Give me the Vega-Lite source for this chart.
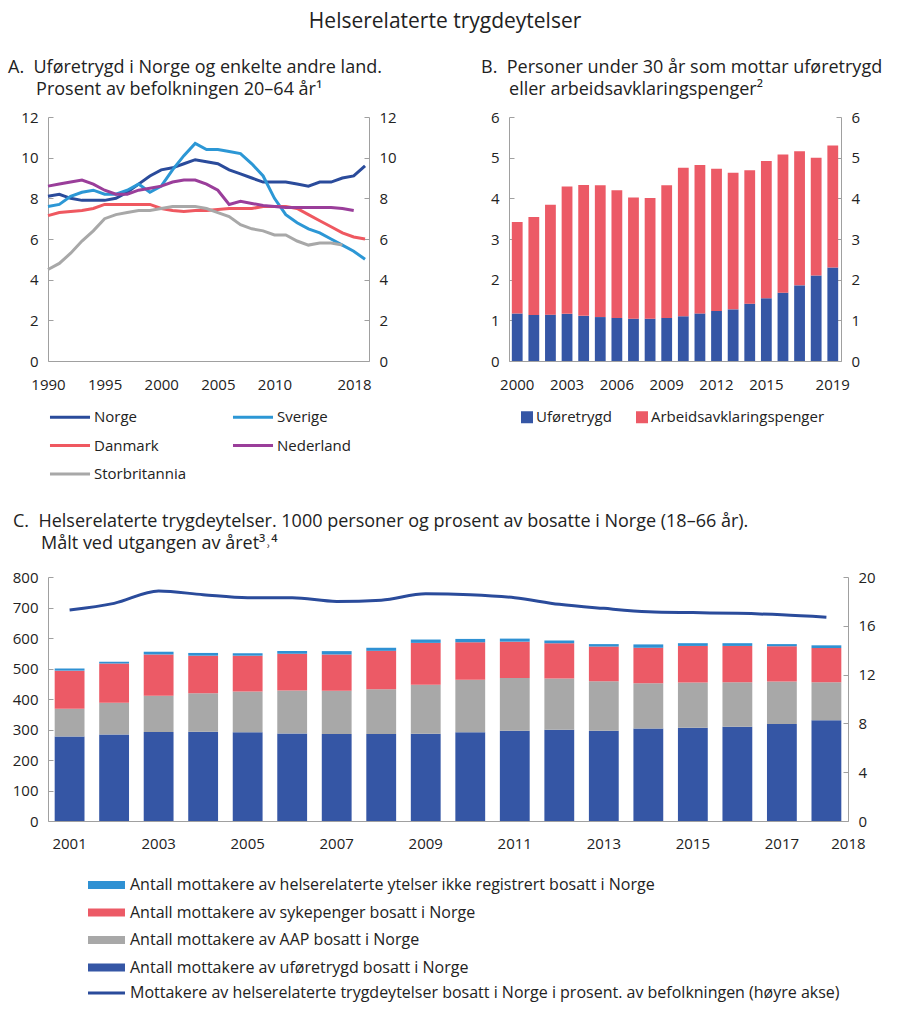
{
  "$schema": "https://vega.github.io/schema/vega-lite/v6.json",
  "padding": {"left": 8, "top": 11, "right": 5, "bottom": 5},
  "background": "white",
  "title": {"text": "Helserelaterte trygdeytelser", "fontSize": 21, "anchor": "middle", "offset": 27},
  "config": {
    "font": "Open Sans",
    "view": {"stroke": null},
    "axis": {"labelFont": "Open Sans", "labelFontSize": 15, "labelColor": "#222", "domainColor": "#a0a0a0", "tickColor": "#a0a0a0", "grid": false, "title": null},
    "legend": {"labelFont": "Open Sans", "labelFontSize": 15, "labelColor": "#222", "labelLimit": 900},
    "title": {"font": "Open Sans", "fontWeight": "normal", "color": "#222", "fontSize": 18, "lineHeight": 22}
  },
  "spacing": 30,
  "resolve": {"scale": {"color": "independent", "stroke": "independent"}, "legend": {"color": "independent", "stroke": "independent"}},
  "vconcat": [
    {
      "spacing": 84,
      "resolve": {"scale": {"color": "independent"}, "legend": {"color": "independent"}},
      "hconcat": [
        {
          "width": 321,
          "height": 244,
          "title": {"text": ["A.\u00a0\u00a0Uføretrygd i Norge og enkelte andre land.", "\u200b\u00a0\u00a0\u00a0\u00a0\u00a0\u00a0Prosent av befolkningen 20–64 år¹"], "anchor": "start", "frame": "group", "dx": -40, "offset": 11},
          "data": {"values": [
            {"year": 1990, "Norge": 8.1, "Sverige": 7.6, "Danmark": 7.15, "Nederland": 8.6, "Storbritannia": 4.5},
            {"year": 1991, "Norge": 8.2, "Sverige": 7.7, "Danmark": 7.3, "Nederland": 8.7, "Storbritannia": 4.8},
            {"year": 1992, "Norge": 8.0, "Sverige": 8.1, "Danmark": 7.35, "Nederland": 8.8, "Storbritannia": 5.3},
            {"year": 1993, "Norge": 7.9, "Sverige": 8.3, "Danmark": 7.4, "Nederland": 8.9, "Storbritannia": 5.9},
            {"year": 1994, "Norge": 7.9, "Sverige": 8.4, "Danmark": 7.5, "Nederland": 8.7, "Storbritannia": 6.4},
            {"year": 1995, "Norge": 7.9, "Sverige": 8.2, "Danmark": 7.7, "Nederland": 8.4, "Storbritannia": 7.0},
            {"year": 1996, "Norge": 8.0, "Sverige": 8.2, "Danmark": 7.7, "Nederland": 8.2, "Storbritannia": 7.2},
            {"year": 1997, "Norge": 8.3, "Sverige": 8.4, "Danmark": 7.7, "Nederland": 8.2, "Storbritannia": 7.3},
            {"year": 1998, "Norge": 8.7, "Sverige": 8.7, "Danmark": 7.7, "Nederland": 8.4, "Storbritannia": 7.4},
            {"year": 1999, "Norge": 9.1, "Sverige": 8.3, "Danmark": 7.7, "Nederland": 8.5, "Storbritannia": 7.4},
            {"year": 2000, "Norge": 9.4, "Sverige": 8.6, "Danmark": 7.5, "Nederland": 8.6, "Storbritannia": 7.5},
            {"year": 2001, "Norge": 9.5, "Sverige": 9.4, "Danmark": 7.4, "Nederland": 8.8, "Storbritannia": 7.6},
            {"year": 2002, "Norge": 9.7, "Sverige": 10.1, "Danmark": 7.35, "Nederland": 8.9, "Storbritannia": 7.6},
            {"year": 2003, "Norge": 9.9, "Sverige": 10.7, "Danmark": 7.4, "Nederland": 8.9, "Storbritannia": 7.6},
            {"year": 2004, "Norge": 9.8, "Sverige": 10.4, "Danmark": 7.4, "Nederland": 8.7, "Storbritannia": 7.5},
            {"year": 2005, "Norge": 9.7, "Sverige": 10.4, "Danmark": 7.45, "Nederland": 8.4, "Storbritannia": 7.3},
            {"year": 2006, "Norge": 9.4, "Sverige": 10.3, "Danmark": 7.5, "Nederland": 7.7, "Storbritannia": 7.1},
            {"year": 2007, "Norge": 9.2, "Sverige": 10.2, "Danmark": 7.5, "Nederland": 7.85, "Storbritannia": 6.7},
            {"year": 2008, "Norge": 9.0, "Sverige": 9.7, "Danmark": 7.5, "Nederland": 7.75, "Storbritannia": 6.5},
            {"year": 2009, "Norge": 8.8, "Sverige": 9.1, "Danmark": 7.6, "Nederland": 7.65, "Storbritannia": 6.4},
            {"year": 2010, "Norge": 8.8, "Sverige": 8.0, "Danmark": 7.6, "Nederland": 7.6, "Storbritannia": 6.2},
            {"year": 2011, "Norge": 8.8, "Sverige": 7.2, "Danmark": 7.6, "Nederland": 7.55, "Storbritannia": 6.2},
            {"year": 2012, "Norge": 8.7, "Sverige": 6.8, "Danmark": 7.5, "Nederland": 7.55, "Storbritannia": 5.9},
            {"year": 2013, "Norge": 8.6, "Sverige": 6.5, "Danmark": 7.2, "Nederland": 7.55, "Storbritannia": 5.7},
            {"year": 2014, "Norge": 8.8, "Sverige": 6.3, "Danmark": 6.9, "Nederland": 7.55, "Storbritannia": 5.8},
            {"year": 2015, "Norge": 8.8, "Sverige": 6.0, "Danmark": 6.6, "Nederland": 7.55, "Storbritannia": 5.8},
            {"year": 2016, "Norge": 9.0, "Sverige": 5.7, "Danmark": 6.3, "Nederland": 7.5, "Storbritannia": 5.7},
            {"year": 2017, "Norge": 9.1, "Sverige": 5.4, "Danmark": 6.1, "Nederland": 7.4},
            {"year": 2018, "Norge": 9.6, "Sverige": 5.0, "Danmark": 6.0}
          ]},
          "transform": [
            {"fold": ["Norge", "Sverige", "Danmark", "Nederland", "Storbritannia"], "as": ["land", "v"]},
            {"filter": "isValid(datum.v)"}
          ],
          "layer": [
            {
              "mark": {"type": "line", "strokeWidth": 3},
              "encoding": {
                "x": {"field": "year", "type": "quantitative", "scale": {"domain": [1990, 2018.35], "nice": false, "zero": false},
                  "axis": {"values": [1990, 1995, 2000, 2005, 2010, 2018], "format": "d", "ticks": false, "labelPadding": 16, "labelFlush": false,
                    "labelOffset": {"condition": {"test": "datum.value == 2018", "value": -11}, "value": 0}}},
                "y": {"field": "v", "type": "quantitative", "scale": {"domain": [0, 12], "nice": false},
                  "axis": {"values": [0, 2, 4, 6, 8, 10, 12], "tickSize": -5, "labelPadding": 15}},
                "color": {"field": "land", "type": "nominal",
                  "scale": {"domain": ["Norge", "Sverige", "Danmark", "Nederland", "Storbritannia"], "range": ["#2a4b9b", "#2c97d5", "#ef5860", "#9a3e9a", "#a8a8a8"]},
                  "legend": {"title": null, "orient": "none", "direction": "horizontal", "legendX": 13.5, "legendY": 291.5, "columns": 2, "columnPadding": 40, "rowPadding": 11.5,
                    "symbolType": "M-3,0H3", "symbolSize": 178, "symbolStrokeWidth": 3, "labelOffset": 15.5}}
              }
            },
            {
              "mark": {"type": "line", "opacity": 0},
              "encoding": {
                "x": {"field": "year", "type": "quantitative"},
                "y": {"field": "v", "type": "quantitative", "scale": {"domain": [0, 12], "nice": false},
                  "axis": {"orient": "right", "values": [0, 2, 4, 6, 8, 10, 12], "tickSize": -5, "labelPadding": 15}},
                "detail": {"field": "land"}
              }
            }
          ],
          "resolve": {"scale": {"y": "independent"}}
        },
        {
          "width": 332,
          "height": 244,
          "title": {"text": ["B.\u00a0\u00a0Personer under 30 år som mottar uføretrygd", "\u200b\u00a0\u00a0\u00a0\u00a0\u00a0\u00a0eller arbeidsavklaringspenger²"], "anchor": "start", "frame": "group", "dx": -28, "offset": 11},
          "data": {"values": [
            {"year": 2000, "Uføretrygd": 1.17, "Arbeidsavklaringspenger": 2.25},
            {"year": 2001, "Uføretrygd": 1.13, "Arbeidsavklaringspenger": 2.41},
            {"year": 2002, "Uføretrygd": 1.14, "Arbeidsavklaringspenger": 2.70},
            {"year": 2003, "Uføretrygd": 1.16, "Arbeidsavklaringspenger": 3.13},
            {"year": 2004, "Uføretrygd": 1.11, "Arbeidsavklaringspenger": 3.22},
            {"year": 2005, "Uføretrygd": 1.08, "Arbeidsavklaringspenger": 3.24},
            {"year": 2006, "Uføretrygd": 1.06, "Arbeidsavklaringspenger": 3.14},
            {"year": 2007, "Uføretrygd": 1.04, "Arbeidsavklaringspenger": 2.98},
            {"year": 2008, "Uføretrygd": 1.04, "Arbeidsavklaringspenger": 2.97},
            {"year": 2009, "Uføretrygd": 1.06, "Arbeidsavklaringspenger": 3.26},
            {"year": 2010, "Uføretrygd": 1.10, "Arbeidsavklaringspenger": 3.65},
            {"year": 2011, "Uføretrygd": 1.17, "Arbeidsavklaringspenger": 3.65},
            {"year": 2012, "Uføretrygd": 1.23, "Arbeidsavklaringspenger": 3.50},
            {"year": 2013, "Uføretrygd": 1.27, "Arbeidsavklaringspenger": 3.36},
            {"year": 2014, "Uføretrygd": 1.41, "Arbeidsavklaringspenger": 3.28},
            {"year": 2015, "Uføretrygd": 1.54, "Arbeidsavklaringspenger": 3.38},
            {"year": 2016, "Uføretrygd": 1.68, "Arbeidsavklaringspenger": 3.40},
            {"year": 2017, "Uføretrygd": 1.86, "Arbeidsavklaringspenger": 3.30},
            {"year": 2018, "Uføretrygd": 2.10, "Arbeidsavklaringspenger": 2.90},
            {"year": 2019, "Uføretrygd": 2.30, "Arbeidsavklaringspenger": 3.00}
          ]},
          "transform": [{"fold": ["Uføretrygd", "Arbeidsavklaringspenger"], "as": ["type", "v"]}],
          "layer": [
            {
              "mark": {"type": "bar"},
              "encoding": {
                "x": {"field": "year", "type": "ordinal", "scale": {"paddingInner": 0.35, "paddingOuter": 0.17},
                  "axis": {"values": [2000, 2003, 2006, 2009, 2012, 2015, 2019], "labelAngle": 0, "ticks": false, "labelPadding": 16}},
                "y": {"field": "v", "type": "quantitative", "stack": "zero", "scale": {"domain": [0, 6], "nice": false},
                  "axis": {"values": [0, 1, 2, 3, 4, 5, 6], "tickSize": -5, "labelPadding": 15}},
                "color": {"field": "type", "type": "nominal",
                  "scale": {"domain": ["Uføretrygd", "Arbeidsavklaringspenger"], "range": ["#3556a5", "#ec5a66"]},
                  "legend": {"title": null, "orient": "none", "direction": "horizontal", "legendX": 10.5, "legendY": 292.5, "symbolType": "square", "symbolSize": 144, "symbolStrokeWidth": 0, "columnPadding": 22, "labelOffset": 1.5}},
                "order": {"field": "type", "sort": "descending"}
              }
            },
            {
              "mark": {"type": "bar", "opacity": 0},
              "encoding": {
                "x": {"field": "year", "type": "ordinal"},
                "y": {"field": "v", "type": "quantitative", "stack": "zero", "scale": {"domain": [0, 6], "nice": false},
                  "axis": {"orient": "right", "values": [0, 1, 2, 3, 4, 5, 6], "tickSize": -5, "labelPadding": 15}},
                "detail": {"field": "type"}
              }
            }
          ],
          "resolve": {"scale": {"y": "independent"}}
        }
      ]
    },
    {
      "width": 800,
      "height": 244,
      "title": {"text": ["C.\u00a0\u00a0Helserelaterte trygdeytelser. 1000 personer og prosent av bosatte i Norge (18–66 år).", "\u200b\u00a0\u00a0\u00a0\u00a0\u00a0\u00a0Målt ved utgangen av året³˒⁴"], "anchor": "start", "frame": "group", "dx": -35, "offset": 17},
      "data": {"values": [
        {"year": 2001, "uf": 277, "aap": 91, "syk": 125, "ikke": 7, "pct": 17.3},
        {"year": 2002, "uf": 284, "aap": 104, "syk": 128, "ikke": 6, "pct": 17.84},
        {"year": 2003, "uf": 292, "aap": 119, "syk": 135, "ikke": 9, "pct": 18.85},
        {"year": 2004, "uf": 293, "aap": 126, "syk": 123, "ikke": 9, "pct": 18.55},
        {"year": 2005, "uf": 291, "aap": 134, "syk": 117, "ikke": 8, "pct": 18.3},
        {"year": 2006, "uf": 287, "aap": 141, "syk": 120, "ikke": 9, "pct": 18.3},
        {"year": 2007, "uf": 285, "aap": 142, "syk": 119, "ikke": 11, "pct": 18.0},
        {"year": 2008, "uf": 285, "aap": 147, "syk": 126, "ikke": 10, "pct": 18.1},
        {"year": 2009, "uf": 286, "aap": 161, "syk": 137, "ikke": 11, "pct": 18.63},
        {"year": 2010, "uf": 291, "aap": 172, "syk": 123, "ikke": 11, "pct": 18.55},
        {"year": 2011, "uf": 296, "aap": 173, "syk": 119, "ikke": 10, "pct": 18.3},
        {"year": 2012, "uf": 299, "aap": 168, "syk": 116, "ikke": 9, "pct": 17.76},
        {"year": 2013, "uf": 296, "aap": 162, "syk": 114, "ikke": 8, "pct": 17.43},
        {"year": 2014, "uf": 303, "aap": 149, "syk": 116, "ikke": 11, "pct": 17.16},
        {"year": 2015, "uf": 306, "aap": 148, "syk": 120, "ikke": 9, "pct": 17.08},
        {"year": 2016, "uf": 309, "aap": 146, "syk": 119, "ikke": 9, "pct": 17.02},
        {"year": 2017, "uf": 318, "aap": 139, "syk": 116, "ikke": 7, "pct": 16.9},
        {"year": 2018, "uf": 330, "aap": 125, "syk": 112, "ikke": 9, "pct": 16.7}
      ]},
      "layer": [
        {
          "transform": [
            {"fold": ["uf", "aap", "syk", "ikke"], "as": ["kat", "v"]},
            {"calculate": "indexof(['uf','aap','syk','ikke'], datum.kat)", "as": "ord"}
          ],
          "mark": {"type": "bar"},
          "encoding": {
            "x": {"field": "year", "type": "ordinal", "scale": {"paddingInner": 0.33, "paddingOuter": 0.15},
              "axis": {"values": [2001, 2003, 2005, 2007, 2009, 2011, 2013, 2015, 2017, 2018], "labelAngle": 0, "ticks": false, "labelPadding": 15,
                "labelOffset": {"condition": {"test": "datum.value == 2018", "value": 22}, "value": 0}}},
            "y": {"field": "v", "type": "quantitative", "stack": "zero", "scale": {"domain": [0, 800], "nice": false},
              "axis": {"values": [0, 100, 200, 300, 400, 500, 600, 700, 800], "tickSize": -5, "labelPadding": 15}},
            "color": {"field": "kat", "type": "nominal",
              "scale": {"domain": ["ikke", "syk", "aap", "uf"], "range": ["#2f91d3", "#ec5a66", "#a8a8a8", "#3556a5"]},
              "legend": {"title": null, "orient": "none", "legendX": 50.5, "legendY": 300, "direction": "vertical", "rowPadding": 11.5, "labelFontSize": 16,
                "symbolType": "M-3,-0.65H3V0.65H-3Z", "symbolSize": 152, "symbolStrokeWidth": 0, "labelOffset": 15.5,
                "labelExpr": "{'ikke': 'Antall mottakere av helserelaterte ytelser ikke registrert bosatt i Norge', 'syk': 'Antall mottakere av sykepenger bosatt i Norge', 'aap': 'Antall mottakere av AAP bosatt i Norge', 'uf': 'Antall mottakere av uføretrygd bosatt i Norge'}[datum.value]"}},
            "order": {"field": "ord", "type": "quantitative"}
          }
        },
        {
          "mark": {"type": "line", "strokeWidth": 3, "interpolate": "monotone"},
          "encoding": {
            "x": {"field": "year", "type": "ordinal"},
            "y": {"field": "pct", "type": "quantitative", "scale": {"domain": [0, 20], "nice": false},
              "axis": {"orient": "right", "values": [0, 4, 8, 12, 16, 20], "tickSize": -5, "labelPadding": 15}},
            "stroke": {"datum": "Mottakere av helserelaterte trygdeytelser bosatt i Norge i prosent. av befolkningen (høyre akse)",
              "scale": {"range": ["#2a4b9b"]},
              "legend": {"title": null, "orient": "none", "legendX": 50.5, "legendY": 408, "labelFontSize": 16, "symbolType": "M-3,0H3", "symbolSize": 152, "symbolStrokeWidth": 3, "labelOffset": 15.5}}
          }
        }
      ],
      "resolve": {"scale": {"y": "independent"}}
    }
  ]
}
